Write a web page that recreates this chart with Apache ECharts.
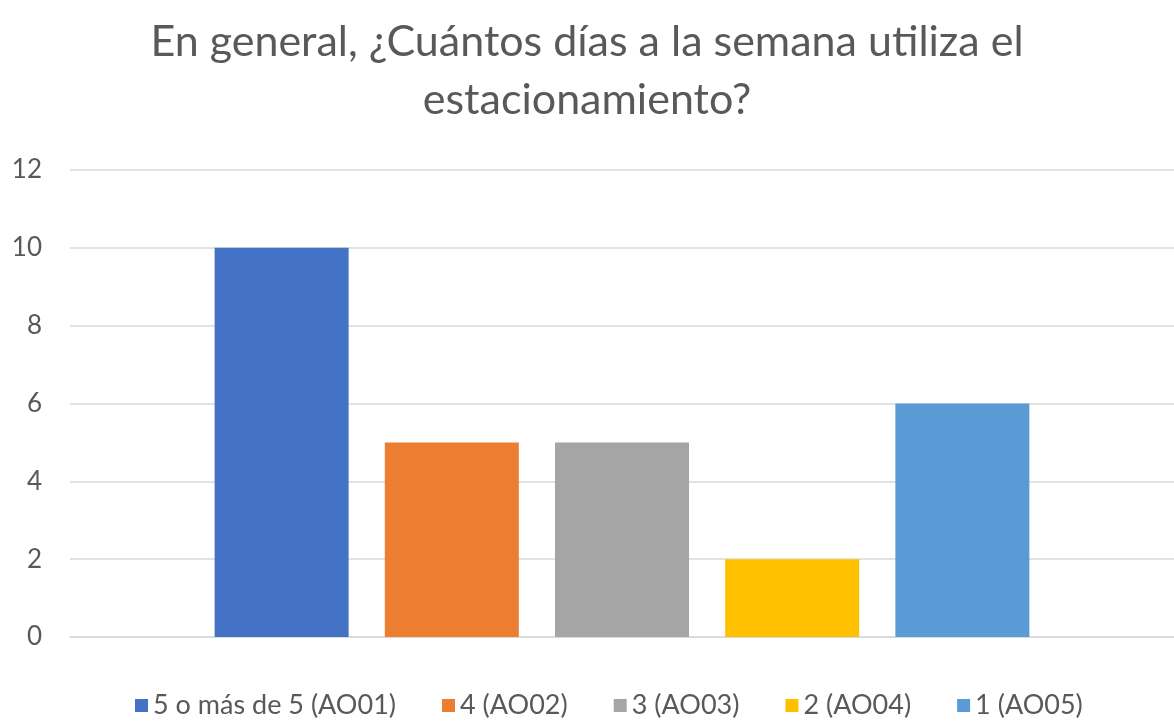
<!DOCTYPE html>
<html>
<head>
<meta charset="utf-8">
<script src="https://cdn.jsdelivr.net/npm/echarts@6/dist/echarts.min.js"></script>
<style>
html, body { margin: 0; padding: 0; background: #fff; }
#chart { width: 1174px; height: 726px; }
</style>
</head>
<body>
<div id="chart"></div>
<script>
// datos
var categorias = ['Días'];
var series = ['5 o más de 5 (AO01)', '4 (AO02)', '3 (AO03)', '2 (AO04)', '1 (AO05)'];
var valores = [10, 5, 5, 2, 6];
var colores = ['#4472C4', '#ED7D31', '#A5A5A5', '#FFC000', '#5B9BD5'];

var myChart = echarts.init(document.getElementById('chart'));

var serieList = series.map(function (nombre, i) {
	return {
		name: nombre,
		type: 'bar',
		data: [valores[i]],
		itemStyle: { color: colores[i] },
		barGap: '27%',
		barCategoryGap: '26.2%'
	};
});

var option = {
	animation: false,
	textStyle: { fontFamily: 'Lato' },
	title: {
		text: 'En general, ¿Cuántos días a la semana utiliza el\nestacionamiento?',
		left: 'center',
		top: 8,
		textStyle: { fontSize: 43, fontWeight: 'normal', color: '#595959', lineHeight: 58, fontFamily: 'Lato' }
	},
	legend: {
		data: series,
		bottom: 2,
		left: 130,
		icon: 'rect',
		itemWidth: 13,
		itemHeight: 13,
		itemGap: 46,
		itemStyle: { borderWidth: 0 },
		textStyle: { fontSize: 27, color: '#595959', fontFamily: 'Lato' }
	},
	grid: { left: 70, right: 0, top: 170, bottom: 89 },
	xAxis: {
		type: 'category',
		data: categorias,
		axisLine: { lineStyle: { color: '#D9D9D9', width: 1.5 } },
		axisTick: { show: false },
		axisLabel: { show: false }
	},
	yAxis: {
		type: 'value',
		min: 0,
		max: 12,
		interval: 2,
		axisLine: { show: false },
		axisTick: { show: false },
		axisLabel: { fontSize: 26, color: '#595959', margin: 28, fontFamily: 'Lato' },
		splitLine: { lineStyle: { color: '#D9D9D9', width: 1.5 } }
	},
	series: serieList
};
myChart.setOption(option);
</script>
</body>
</html>
